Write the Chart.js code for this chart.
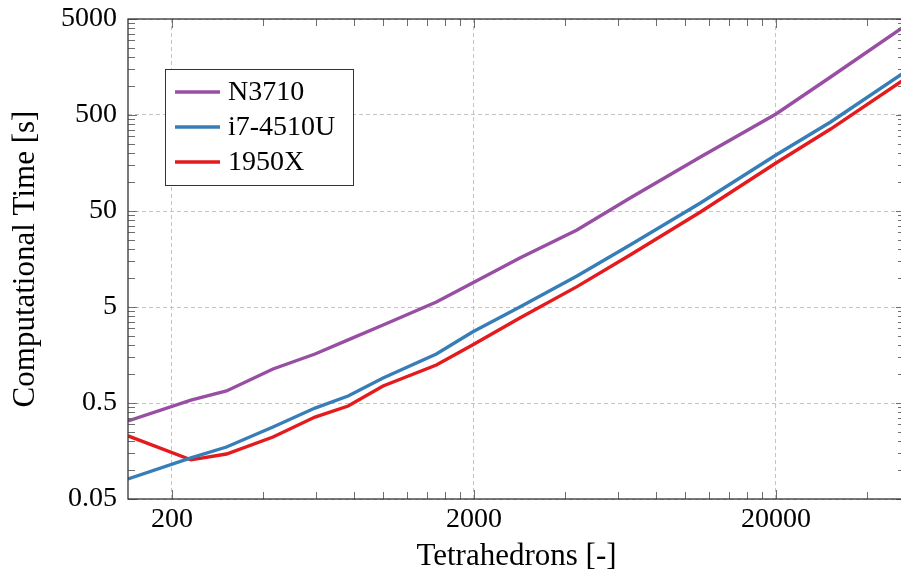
<!DOCTYPE html>
<html><head><meta charset="utf-8">
<script src="https://cdn.jsdelivr.net/npm/chart.js@4/dist/chart.umd.min.js"></script>
<style>html,body{margin:0;padding:0;overflow:hidden;background:#fff}canvas{display:block}</style>
</head><body>
<canvas id="c" width="907" height="581"></canvas>
<script>
// ---- data ----
const tetrahedrons = [143, 231, 303, 432, 595, 766, 1000, 1501, 1977, 2836, 4385, 6575, 11240, 20000, 30330, 53480];
const timeN3710 = [0.325, 0.537, 0.667, 1.13, 1.62, 2.27, 3.25, 5.64, 8.89, 16.2, 31.7, 68.3, 182.6, 512, 1244, 4227];
const timeI7 = [0.0808, 0.134, 0.174, 0.281, 0.443, 0.591, 0.910, 1.62, 2.75, 5.0, 10.5, 22.1, 60.6, 191.6, 423, 1403];
const time1950X = [0.227, 0.128, 0.147, 0.221, 0.357, 0.465, 0.752, 1.244, 2.01, 3.84, 8.15, 17.4, 48.8, 158, 357, 1186];
const seriesNames = ['N3710', 'i7-4510U', '1950X'];
const seriesColors = ['#984ea3', '#377eb8', '#e41a1c'];

// ---- ticks ----
const xMajorTicks = [200, 2000, 20000];
const xMinorTicks = [400, 600, 800, 1000, 1200, 1400, 1600, 1800,
                     4000, 6000, 8000, 10000, 12000, 14000, 16000, 18000, 40000];
const yMajorTicks = [0.05, 0.5, 5, 50, 500, 5000];
const yMinorTicks = [0.1, 0.15, 0.2, 0.25, 0.3, 0.35, 0.4, 0.45,
                     1, 1.5, 2, 2.5, 3, 3.5, 4, 4.5,
                     10, 15, 20, 25, 30, 35, 40, 45,
                     100, 150, 200, 250, 300, 350, 400, 450,
                     1000, 1500, 2000, 2500, 3000, 3500, 4000, 4500];
const xMin = 143, xMax = 53480, yMin = 0.05, yMax = 5000;

const FONT = "'Liberation Serif', 'Times New Roman', serif";

const toPts = ys => tetrahedrons.map((x, i) => ({x: x, y: ys[i]}));
const seriesData = [timeN3710, timeI7, time1950X];

const frameTicks = {
  id: 'frameTicks',
  afterDatasetsDraw(chart) {
    const {ctx, chartArea: a, scales} = chart;
    ctx.save();
    ctx.strokeStyle = '#6e6e6e';
    ctx.lineWidth = 1;
    const xs = scales.x, ys = scales.y;
    const draw = (x1, y1, x2, y2) => { ctx.beginPath(); ctx.moveTo(x1, y1); ctx.lineTo(x2, y2); ctx.stroke(); };
    xs.ticks.forEach(t => {
      const len = xMajorTicks.includes(t.value) ? 9 : 7;
      const px = Math.round(xs.getPixelForValue(t.value)) + 0.5;
      draw(px, a.bottom, px, a.bottom - len);
      draw(px, a.top, px, a.top + len);
    });
    ys.ticks.forEach(t => {
      const len = yMajorTicks.includes(t.value) ? 9 : 7;
      const py = Math.round(ys.getPixelForValue(t.value)) + 0.5;
      draw(a.left, py, a.left + len, py);
      draw(a.right, py, a.right - len, py);
    });
    ctx.strokeStyle = '#333';
    ctx.lineWidth = 1.3;
    ctx.strokeRect(a.left, a.top, a.right - a.left, a.bottom - a.top);
    ctx.restore();
  },
  afterDraw(chart) {
    const {ctx} = chart;
    ctx.save();
    const bx = 165, by = 69, bw = 188, bh = 116;
    ctx.fillStyle = '#fff';
    ctx.fillRect(bx, by, bw, bh);
    ctx.strokeStyle = '#333';
    ctx.lineWidth = 1;
    ctx.strokeRect(bx + 0.5, by + 0.5, bw, bh);
    ctx.font = '28px ' + FONT;
    ctx.textBaseline = 'middle';
    ctx.textAlign = 'left';
    chart.data.datasets.forEach((ds, i) => {
      const y = 92 + i * 35;
      ctx.strokeStyle = ds.borderColor;
      ctx.lineWidth = 3.4;
      ctx.beginPath(); ctx.moveTo(175, y); ctx.lineTo(220, y); ctx.stroke();
      ctx.fillStyle = '#000';
      ctx.fillText(ds.label, 228, y + 1);
    });
    ctx.restore();
  }
};

new Chart(document.getElementById('c'), {
  type: 'line',
  data: {
    datasets: seriesNames.map((name, i) => ({
      label: name,
      data: toPts(seriesData[i]),
      borderColor: seriesColors[i],
      backgroundColor: seriesColors[i],
      borderWidth: 3.4,
      pointRadius: 0,
      tension: 0,
      fill: false
    }))
  },
  options: {
    responsive: false,
    animation: false,
    layout: {padding: {left: 0, top: 19, right: 2, bottom: 0}},
    plugins: {legend: {display: false}, tooltip: {enabled: false}},
    scales: {
      x: {
        type: 'logarithmic',
        min: xMin, max: xMax,
        afterBuildTicks: s => { s.ticks = [...xMajorTicks, ...xMinorTicks].sort((a, b) => a - b).map(v => ({value: v})); },
        afterFit: s => { s.height = 82; s.paddingLeft = 0; s.paddingRight = 0; },
        ticks: {
          autoSkip: false, maxRotation: 0, minRotation: 0, padding: 4, color: '#000',
          font: {family: FONT, size: 28},
          callback: v => xMajorTicks.includes(v) ? String(v) : ''
        },
        grid: {
          drawTicks: false,
          color: c => (c.tick && xMajorTicks.includes(c.tick.value)) ? '#c4c4c4' : 'rgba(0,0,0,0)',
          lineWidth: 1
        },
        border: {display: false, dash: [4, 3]},
        title: {display: true, text: 'Tetrahedrons [-]', color: '#000', font: {family: FONT, size: 31}, padding: {top: 0, bottom: 6}}
      },
      y: {
        type: 'logarithmic',
        min: yMin, max: yMax,
        afterBuildTicks: s => { s.ticks = [...yMajorTicks, ...yMinorTicks].sort((a, b) => a - b).map(v => ({value: v})); },
        afterFit: s => { s.width = 128; s.paddingTop = 0; s.paddingBottom = 0; },
        ticks: {
          autoSkip: false, padding: 11, color: '#000',
          font: {family: FONT, size: 28},
          callback: v => yMajorTicks.includes(v) ? String(v) : ''
        },
        grid: {
          drawTicks: false,
          color: c => (c.tick && yMajorTicks.includes(c.tick.value)) ? '#c4c4c4' : 'rgba(0,0,0,0)',
          lineWidth: 1
        },
        border: {display: false, dash: [4, 3]},
        title: {display: true, text: 'Computational Time [s]', color: '#000', font: {family: FONT, size: 31}, padding: {top: 7, bottom: 0}}
      }
    }
  },
  plugins: [frameTicks]
});
</script>
</body></html>
